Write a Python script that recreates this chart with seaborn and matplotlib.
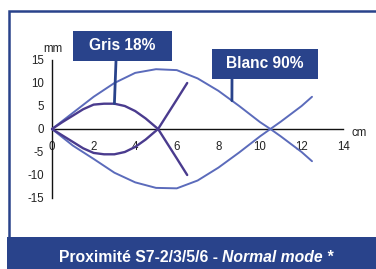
import numpy as np
import pandas as pd
import matplotlib
matplotlib.use("Agg")
import matplotlib.pyplot as plt
import seaborn as sns
from matplotlib.patches import Rectangle

# data (cm, mm)
blanc_x = [0, 1, 2, 3, 4, 5, 6, 7, 8, 9, 10, 10.5, 11, 12, 12.5]
blanc_up = [0, 3.5, 7, 10, 12.2, 13, 12.8, 11, 8.3, 5, 1.5, 0, -1.6, -5, -7]
blanc_lo = [0, -3.6, -6.5, -9.5, -11.6, -12.8, -12.9, -11.2, -8.4, -5.1, -1.6, 0, 1.6, 5, 7]

gris_x = [0, 0.5, 1, 1.5, 2, 2.5, 3, 3.5, 4, 4.5, 5.1, 6, 6.5]
gris_up = [0, 1.5, 2.9, 4.3, 5.3, 5.5, 5.5, 5.0, 3.9, 2.3, 0, -6.4, -10]
gris_lo = [0, -1.4, -2.8, -4.2, -5.2, -5.5, -5.5, -5.0, -3.9, -2.3, 0, 6.4, 10]

x_ticks = list(range(0, 15))
x_tick_labels = [str(t) if t % 2 == 0 else "" for t in x_ticks]
y_ticks = [-15, -10, -5, 0, 5, 10, 15]

label_gris = "Gris 18%"
label_blanc = "Blanc 90%"
title_plain = "Proximité S7-2/3/5/6 - "
title_italic = "Normal mode *"

navy = "#29438b"
c_blanc = "#5b6bbb"
c_gris = "#4a3b8e"

W, H = 376, 269
sns.set_style("white")
plt.rcParams["font.family"] = ["Liberation Sans", "DejaVu Sans"]

fig = plt.figure(figsize=(W / 100, H / 100), dpi=100)
ax = fig.add_axes([0, 0, 1, 1])
ax.patch.set_alpha(0)

# pixel scale: x=0 at px 52, 20.8 px/cm ; y=0 at px 129, 4.6 px/mm
ax.set_xlim(-52 / 20.8, (W - 52) / 20.8)
ax.set_ylim(-(H - 129) / 4.6, 129 / 4.6)


def fx(px):
    return px / W


def fy(py):
    return 1 - py / H


# frame + banner (run off the right and bottom edges, as in the crop)
fig.add_artist(Rectangle((fx(8.5), -1), 2, fy(11) + 1, transform=fig.transFigure,
                         fill=False, edgecolor=navy, linewidth=1.8, zorder=0))
fig.add_artist(Rectangle((fx(7), -1), 2, fy(237) + 1, transform=fig.transFigure,
                         facecolor=navy, edgecolor="none", zorder=1))

for xs, ys, col, lw in [(blanc_x, blanc_up, c_blanc, 1.4), (blanc_x, blanc_lo, c_blanc, 1.4),
                        (gris_x, gris_up, c_gris, 1.7), (gris_x, gris_lo, c_gris, 1.7)]:
    df = pd.DataFrame({"x": xs, "y": ys})
    sns.lineplot(data=df, x="x", y="y", color=col, linewidth=lw, ax=ax, zorder=3)

# axes through origin
for s in ["top", "right"]:
    ax.spines[s].set_visible(False)
ax.spines["left"].set_position(("data", 0))
ax.spines["bottom"].set_position(("data", 0))
ax.spines["left"].set_bounds(-15, 15)
ax.spines["bottom"].set_bounds(0, 14)
for s in ["left", "bottom"]:
    ax.spines[s].set_color("#111111")
    ax.spines[s].set_linewidth(1.0)
    ax.spines[s].set_zorder(2)
ax.set_xticks(x_ticks)
ax.set_xticklabels(x_tick_labels)
ax.set_yticks(y_ticks)
ax.set_yticklabels([str(t) for t in y_ticks])
ax.tick_params(axis="both", direction="inout", length=6, width=1.0, color="#111111",
               labelsize=8.3, labelcolor="#222222")
ax.tick_params(axis="x", pad=6)
ax.tick_params(axis="y", pad=3)
ax.set_xlabel("")
ax.set_ylabel("")

fig.text(fx(53), fy(49), "mm", ha="center", va="center", fontsize=8.3, color="#222222")
fig.text(fx(351), fy(133), "cm", ha="left", va="center", fontsize=8.3, color="#222222")

# label boxes with leader lines
fig.add_artist(Rectangle((fx(73), fy(61)), fx(99), fy(31) - fy(61), transform=fig.transFigure,
                         facecolor=navy, edgecolor="none", zorder=5))
fig.text(fx(122.5), fy(46), label_gris, ha="center", va="center", fontsize=11.2,
         fontweight="bold", color="white", zorder=6)
ax.annotate("", xy=(3.0, 5.5), xytext=(fx(116), fy(61)), textcoords="figure fraction",
            arrowprops=dict(arrowstyle="-", color=navy, lw=2.0, shrinkA=0, shrinkB=0), zorder=4)

fig.add_artist(Rectangle((fx(212), fy(79)), fx(106), fy(49) - fy(79), transform=fig.transFigure,
                         facecolor=navy, edgecolor="none", zorder=5))
fig.text(fx(265), fy(64), label_blanc, ha="center", va="center", fontsize=11.2,
         fontweight="bold", color="white", zorder=6)
bx = 8.65
ax.annotate("", xy=(bx, np.interp(bx, blanc_x, blanc_up)), xytext=(fx(232), fy(79)),
            textcoords="figure fraction",
            arrowprops=dict(arrowstyle="-", color=navy, lw=2.0, shrinkA=0, shrinkB=0), zorder=4)

# banner title, plain bold + italic bold
t1 = fig.text(fx(59), fy(257), title_plain, ha="left", va="center", fontsize=11.3,
              fontweight="bold", color="white", zorder=6)
fig.canvas.draw()
bb = t1.get_window_extent()
fig.text(bb.x1 / W, fy(257), title_italic, ha="left", va="center", fontsize=11.3,
         fontweight="bold", fontstyle="italic", color="white", zorder=6)

fig.savefig("out.png", dpi=100)
plt.close(fig)
